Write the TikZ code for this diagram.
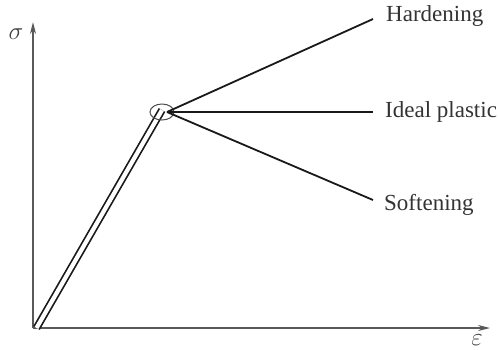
\documentclass[tikz,border=0pt]{standalone}
\usepackage{fontspec}
\setmainfont{Liberation Serif}
\usetikzlibrary{arrows.meta,shapes.geometric}
\begin{document}
\begin{tikzpicture}[x=1pt,y=-1pt,
  axis/.style={draw=black!65,line width=1.5pt,-{Stealth[length=12pt,width=6pt]}},
  ray/.style={draw=black!90,line width=1.8pt},
  lbl/.style={font=\fontsize{23}{25}\selectfont,text=black!80,inner sep=0pt,anchor=west},
  sym/.style={font=\fontsize{23}{25}\selectfont,text=black!75,inner sep=0pt}]
\useasboundingbox (0,0) rectangle (498,349);
\coordinate (O) at (33,328);
\coordinate (Ytip) at (33,22);
\coordinate (Xtip) at (490,328);
\coordinate (B) at (36.5,328);
\coordinate (K) at (162,110);
\coordinate (R) at (167,112);
\coordinate (H) at (373,19);
\coordinate (I) at (373,112);
\coordinate (S) at (373,200);
\draw[axis] (O) -- (Ytip);
\draw[axis] (O) -- (Xtip);
\draw[line width=1.7pt,double=white,double distance=4.2pt,draw=black!90] (B) -- (K);
\node[draw=black!70,line width=1pt,ellipse,minimum width=24pt,minimum height=16pt,inner sep=0pt] (e) at (162,112) {};
\draw[ray] (R) -- (H);
\draw[ray] (R) -- (I);
\draw[ray] (R) -- (S);
\node[lbl] (th) at (386,16) {Hardening};
\node[lbl] (ti) at (385,112) {Ideal plastic};
\node[lbl] (ts) at (384,205) {Softening};
\node[sym] (sg) at (16,34) {$\sigma$};
\node[sym] (ep) at (477,340) {$\varepsilon$};
\end{tikzpicture}
\end{document}
